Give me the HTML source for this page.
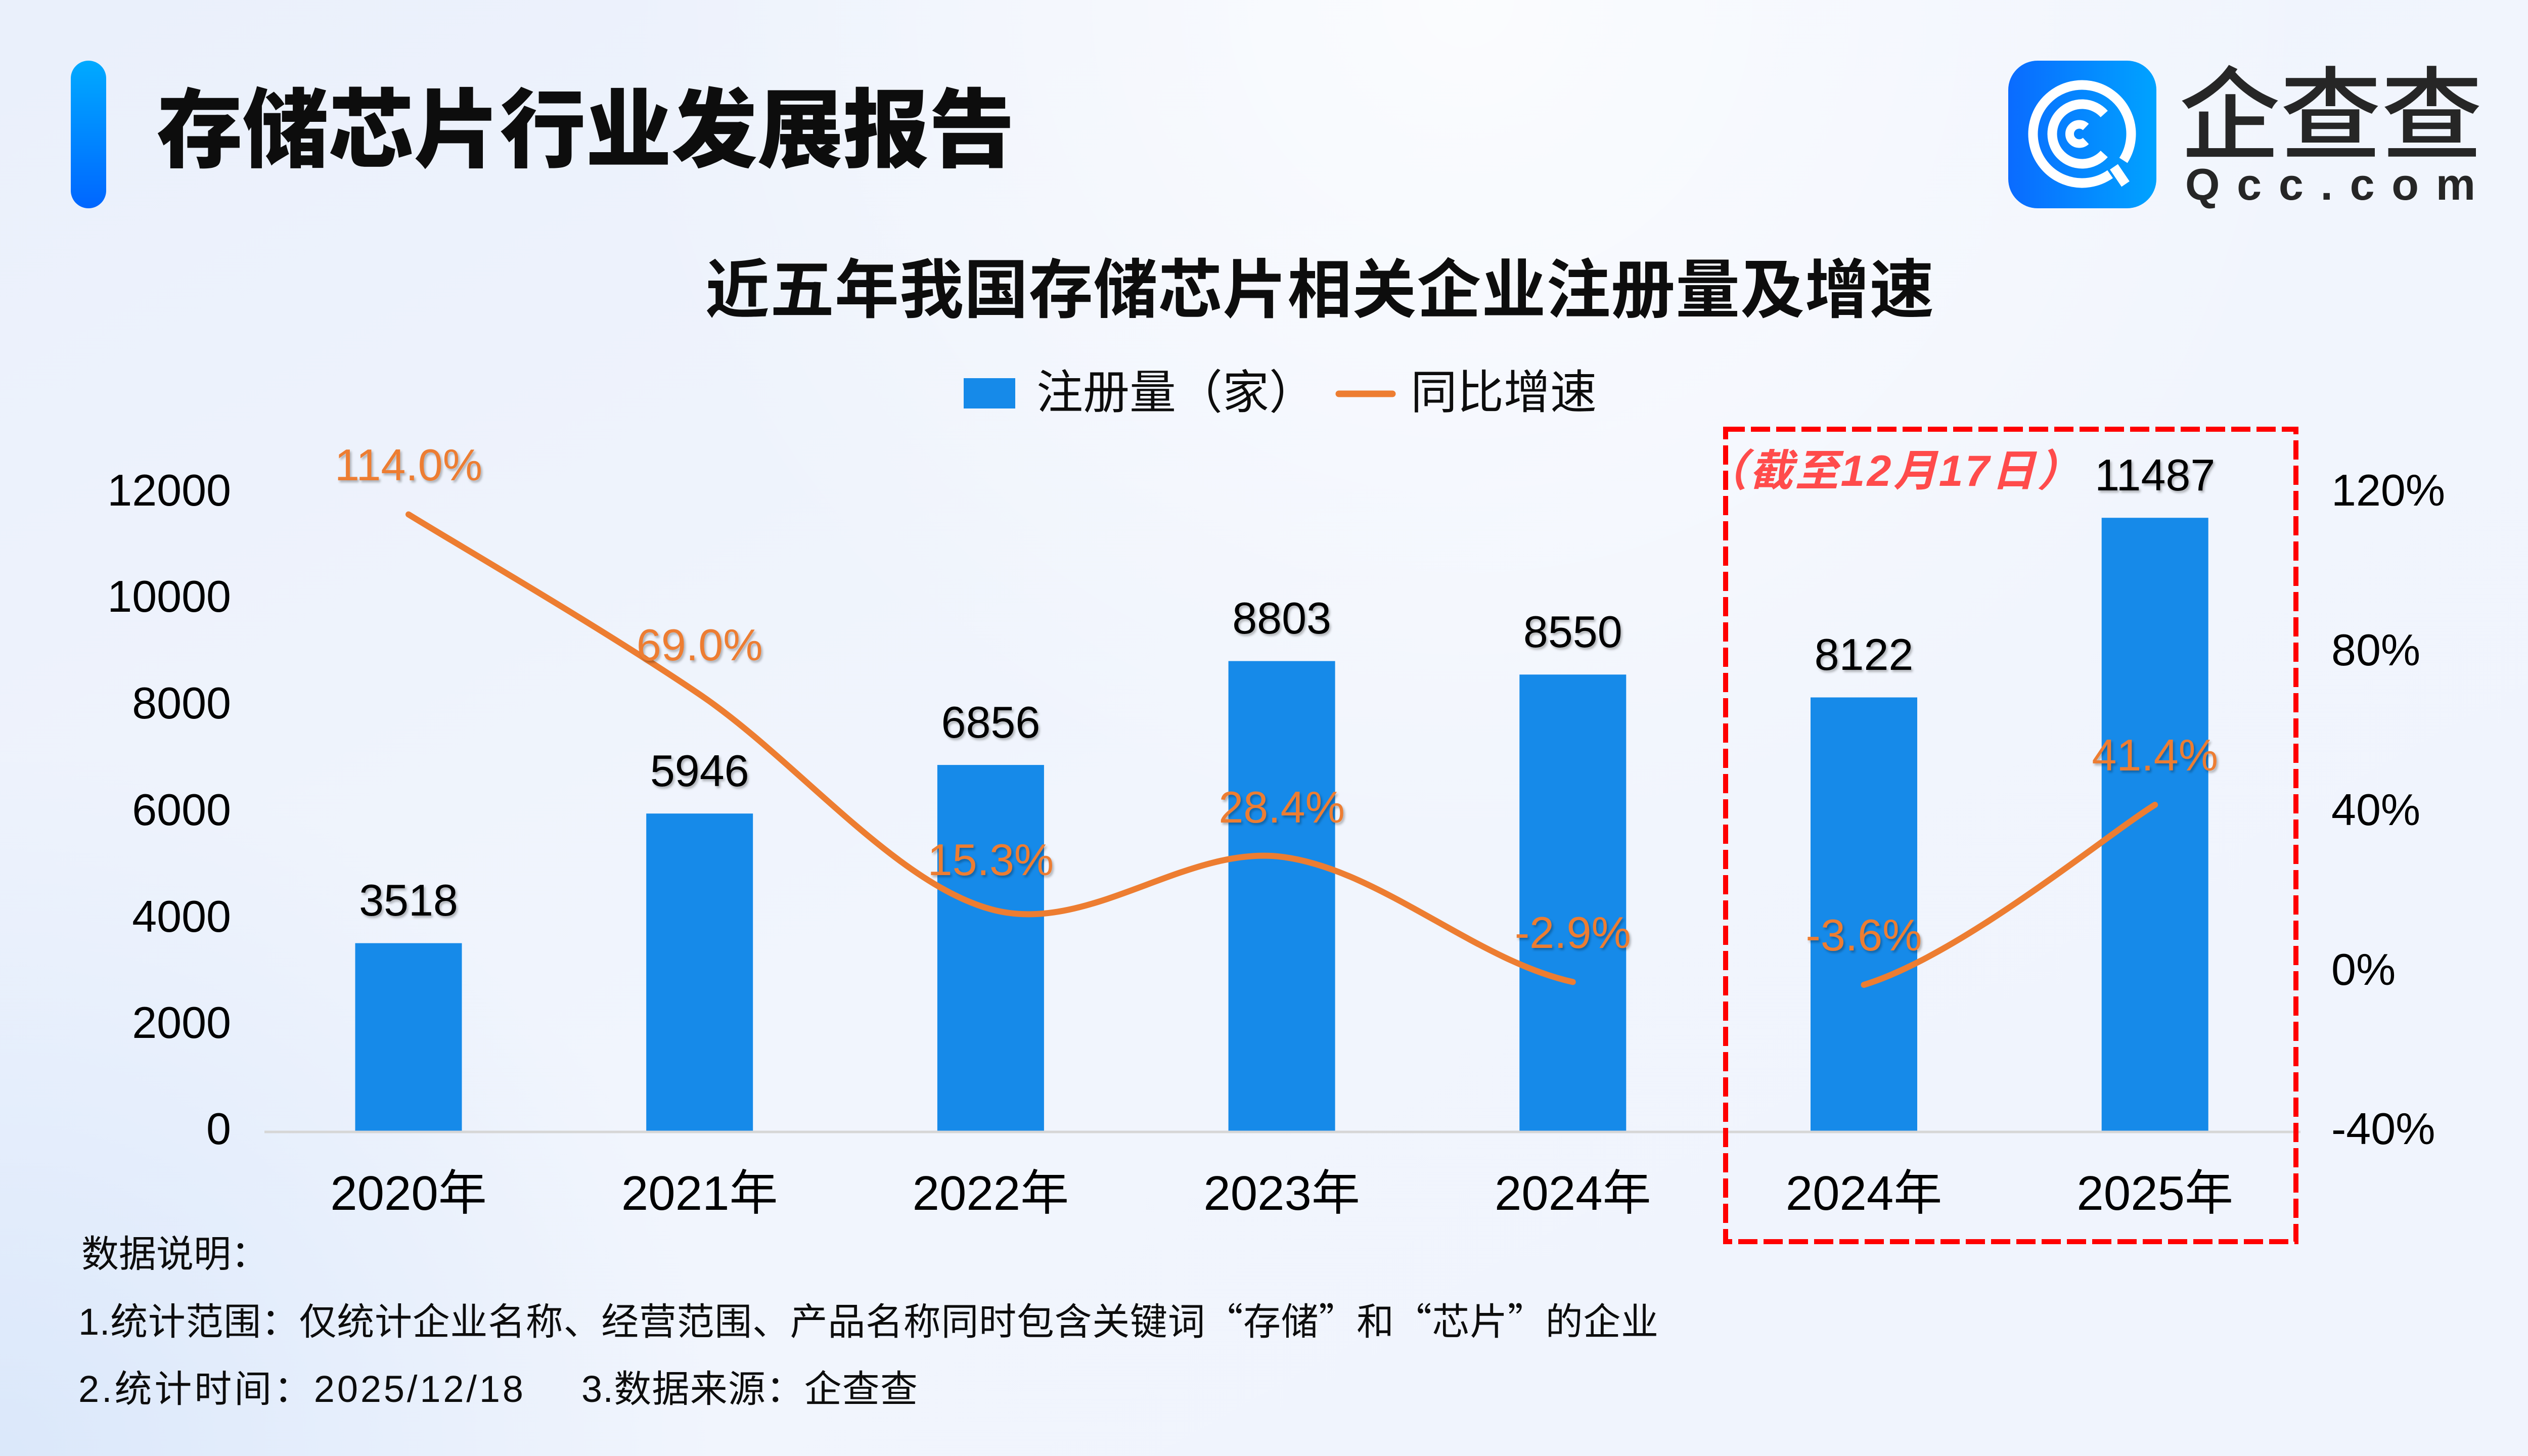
<!DOCTYPE html>
<html>
<head>
<meta charset="utf-8">
<style>
html,body{margin:0;padding:0;width:5120px;height:2880px;overflow:hidden;background:#eef3fc;}
svg{display:block;}
</style>
</head>
<body>
<svg width="5120" height="2880" viewBox="0 0 5120 2880" xmlns="http://www.w3.org/2000/svg" font-family="'Liberation Sans','Noto Sans CJK SC',sans-serif">
<defs>
  <linearGradient id="bgLin" x1="0" y1="0" x2="1" y2="1">
    <stop offset="0" stop-color="#eaf0fb"/>
    <stop offset="0.5" stop-color="#f1f5fd"/>
    <stop offset="1" stop-color="#f0f4fd"/>
  </linearGradient>
  <radialGradient id="glowTop" cx="2900" cy="0" r="1700" gradientUnits="userSpaceOnUse">
    <stop offset="0" stop-color="#ffffff" stop-opacity="0.75"/>
    <stop offset="1" stop-color="#ffffff" stop-opacity="0"/>
  </radialGradient>
  <radialGradient id="glowBL" cx="0" cy="2880" r="1400" gradientUnits="userSpaceOnUse">
    <stop offset="0" stop-color="#d8e6fa" stop-opacity="0.9"/>
    <stop offset="1" stop-color="#d8e6fa" stop-opacity="0"/>
  </radialGradient>
  <linearGradient id="accent" x1="0" y1="0" x2="0" y2="1">
    <stop offset="0" stop-color="#00aaff"/>
    <stop offset="1" stop-color="#0066ff"/>
  </linearGradient>
  <linearGradient id="logoG" x1="0" y1="0" x2="1" y2="0">
    <stop offset="0" stop-color="#0a6bff"/>
    <stop offset="1" stop-color="#00a3ff"/>
  </linearGradient>
  <filter id="sh" x="-10%" y="-10%" width="130%" height="140%">
    <feDropShadow dx="3" dy="4" stdDeviation="2.5" flood-color="#000" flood-opacity="0.28"/>
  </filter>
</defs>

<!-- background -->
<rect x="0" y="0" width="5120" height="2880" fill="url(#bgLin)"/>
<rect x="0" y="0" width="5120" height="2880" fill="url(#glowTop)"/>
<rect x="0" y="0" width="5120" height="2880" fill="url(#glowBL)"/>

<!-- header -->
<rect x="140" y="120" width="70" height="292" rx="35" ry="35" fill="url(#accent)"/>
<text x="310" y="317" font-size="170" font-weight="900" fill="#0d0d0d" textLength="1697" lengthAdjust="spacing">存储芯片行业发展报告</text>

<!-- logo -->
<rect x="3972" y="120" width="293" height="292" rx="58" ry="58" fill="url(#logoG)"/>
<g fill="none" stroke="#ffffff" stroke-width="19" stroke-linecap="butt">
  <path d="M4173.6,344.5 A97,97 0 1 1 4199.7,317.3"/>
  <path d="M4161.8,225.5 A59,59 0 1 0 4161.8,304.5"/>
  <path d="M4125.5,251.2 A19,19 0 1 0 4125.5,278.8" stroke-width="17"/>
</g>
<line x1="4181" y1="330" x2="4204" y2="364" stroke="#ffffff" stroke-width="19"/>
<text x="4310" y="299" font-size="200" font-weight="500" fill="#262626" textLength="600" lengthAdjust="spacing">企查查</text>
<text x="4322" y="395" font-size="88" font-weight="700" fill="#262626" textLength="574" lengthAdjust="spacing">Qcc.com</text>

<!-- chart title -->
<text x="2610" y="618" font-size="127" font-weight="700" fill="#0d0d0d" text-anchor="middle" textLength="2430" lengthAdjust="spacing">近五年我国存储芯片相关企业注册量及增速</text>

<!-- legend -->
<rect x="1906" y="748" width="102" height="60" fill="#168ae9"/>
<text x="2050" y="808" font-size="92" fill="#0d0d0d">注册量（家）</text>
<line x1="2648" y1="779" x2="2754" y2="779" stroke="#ed7d31" stroke-width="13" stroke-linecap="round"/>
<text x="2790" y="808" font-size="92" fill="#0d0d0d">同比增速</text>

<!-- left axis labels -->
<g font-size="88" fill="#000" text-anchor="end">
  <text x="457" y="1000">12000</text>
  <text x="457" y="1210">10000</text>
  <text x="457" y="1421">8000</text>
  <text x="457" y="1632">6000</text>
  <text x="457" y="1843">4000</text>
  <text x="457" y="2053">2000</text>
  <text x="457" y="2263">0</text>
</g>
<!-- right axis labels -->
<g font-size="88" fill="#000" text-anchor="start">
  <text x="4611" y="1000">120%</text>
  <text x="4611" y="1316">80%</text>
  <text x="4611" y="1632">40%</text>
  <text x="4611" y="1948">0%</text>
  <text x="4611" y="2263">-40%</text>
</g>

<!-- bars -->
<g fill="#168ae9">
  <rect x="702.5" y="1865.6" width="211" height="371.4"/>
  <rect x="1278.2" y="1609.2" width="211" height="627.8"/>
  <rect x="1853.9" y="1513.1" width="211" height="723.9"/>
  <rect x="2429.6" y="1307.6" width="211" height="929.4"/>
  <rect x="3005.3" y="1334.3" width="211" height="902.7"/>
  <rect x="3581.0" y="1379.5" width="211" height="857.5"/>
  <rect x="4156.7" y="1024.2" width="211" height="1212.8"/>
</g>

<!-- baseline -->
<line x1="523" y1="2239" x2="4550" y2="2239" stroke="#d6d6d6" stroke-width="5"/>

<!-- bar value labels -->
<g font-size="88" fill="#000" text-anchor="middle" filter="url(#sh)">
  <text x="808" y="1811">3518</text>
  <text x="1383.7" y="1555">5946</text>
  <text x="1959.4" y="1459">6856</text>
  <text x="2535.1" y="1253">8803</text>
  <text x="3110.8" y="1280">8550</text>
  <text x="3686.5" y="1325">8122</text>
  <text x="4262.2" y="970">11487</text>
</g>

<!-- growth line -->
<path d="M808,1017.5 C903.9,1076.8 1191.8,1243.4 1383.7,1373.5 C1575.6,1503.7 1767.5,1744.9 1959.4,1798.4 C2151.3,1852.0 2343.2,1670.8 2535.1,1694.8 C2727.0,1718.8 2918.9,1900.2 3110.8,1942.4 M3686.5,1948 C3878.4,1889.6 4166.2,1651.3 4262.2,1591.9" fill="none" stroke="#ed7d31" stroke-width="12" stroke-linecap="round" stroke-linejoin="round"/>

<!-- percent labels -->
<g font-size="88" fill="#ed7d31" text-anchor="middle" filter="url(#sh)">
  <text x="808" y="950">114.0%</text>
  <text x="1383.7" y="1306">69.0%</text>
  <text x="1959.4" y="1731">15.3%</text>
  <text x="2535.1" y="1627">28.4%</text>
  <text x="3110.8" y="1875">-2.9%</text>
  <text x="3686.5" y="1880">-3.6%</text>
  <text x="4262.2" y="1524">41.4%</text>
</g>

<!-- x axis labels -->
<g font-size="96" fill="#000" text-anchor="middle">
  <text x="808" y="2393">2020年</text>
  <text x="1383.7" y="2393">2021年</text>
  <text x="1959.4" y="2393">2022年</text>
  <text x="2535.1" y="2393">2023年</text>
  <text x="3110.8" y="2393">2024年</text>
  <text x="3686.5" y="2393">2024年</text>
  <text x="4262.2" y="2393">2025年</text>
</g>

<!-- red dashed highlight -->
<rect x="3413" y="849" width="1128" height="1607" fill="none" stroke="#ff0000" stroke-width="10" stroke-dasharray="38 12"/>
<text x="3370" y="961" font-size="86" font-weight="700" font-style="italic" fill="#ff4b4b" textLength="745" lengthAdjust="spacing">（截至12月17日）</text>

<!-- footnotes -->
<g font-size="74" fill="#0d0d0d">
  <text x="161" y="2506">数据说明：</text>
  <text x="155" y="2640" textLength="3125" lengthAdjust="spacing">1.统计范围：仅统计企业名称、经营范围、产品名称同时包含关键词<tspan font-family="'Noto Sans CJK SC',sans-serif">“</tspan>存储<tspan font-family="'Noto Sans CJK SC',sans-serif">”</tspan>和<tspan font-family="'Noto Sans CJK SC',sans-serif">“</tspan>芯片<tspan font-family="'Noto Sans CJK SC',sans-serif">”</tspan>的企业</text>
  <text x="155" y="2773" textLength="880" lengthAdjust="spacing">2.统计时间：2025/12/18</text>
  <text x="1150" y="2773" textLength="665" lengthAdjust="spacing">3.数据来源：企查查</text>
</g>
</svg>
</body>
</html>
